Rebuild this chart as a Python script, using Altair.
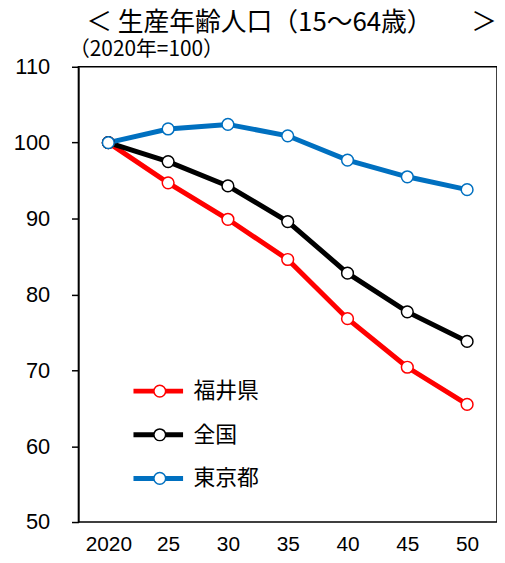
import altair as alt
import pandas as pd

years = ["2020", "25", "30", "35", "40", "45", "50"]
series_names = ["福井県", "全国", "東京都"]
fukui = [100, 94.7, 89.9, 84.6, 76.8, 70.4, 65.5]
zenkoku = [100, 97.5, 94.3, 89.6, 82.8, 77.7, 73.8]
tokyo = [100, 101.8, 102.4, 100.9, 97.7, 95.5, 93.8]
colors = ["#FF0000", "#000000", "#0070C0"]

rows = []
for name, vals in zip(series_names, [fukui, zenkoku, tokyo]):
    for y, v in zip(years, vals):
        rows.append({"year": y, "series": name, "marker": name + "・", "value": v})
df = pd.DataFrame(rows)
marker_names = [n + "・" for n in series_names]

FONT_NUM = "Liberation Sans"
FONT_JP = "Noto Sans CJK JP"

x_enc = alt.X("year:N", sort=years,
              scale=alt.Scale(type="point", padding=0.5),
              axis=alt.Axis(title=None, labelAngle=0, ticks=False, domain=False,
                            labelFont=FONT_NUM, labelFontSize=21, labelColor="black",
                            labelPadding=12, grid=False))
y_enc = alt.Y("value:Q", scale=alt.Scale(domain=[50, 110], nice=False, zero=False),
              axis=alt.Axis(values=[50, 60, 70, 80, 90, 100, 110], grid=False,
                            tickSize=7, tickColor="black", tickWidth=1.5,
                            domainColor="black", domainWidth=1.5,
                            labelFont=FONT_NUM, labelFontSize=22, labelColor="black",
                            labelPadding=22,
                            title="（2020年=100）", titleAngle=0, titleAlign="left",
                            titleBaseline="bottom", titleX=-10, titleY=-7,
                            titleFont=FONT_JP, titleFontSize=21, titleFontWeight="normal",
                            titleColor="black"))

LEG_X = 53
LEG_Y = 312

lines = alt.Chart(df).mark_line(strokeWidth=5).encode(
    x=x_enc, y=y_enc,
    color=alt.Color("series:N", sort=series_names,
                    scale=alt.Scale(domain=series_names, range=colors),
                    legend=alt.Legend(orient="none", legendX=LEG_X, legendY=LEG_Y,
                                      title=None, symbolType="stroke", symbolStrokeWidth=5,
                                      symbolSize=2500, clipHeight=30, rowPadding=14,
                                      padding=0, labelFont=FONT_JP, labelFontSize=22,
                                      labelColor="black", labelOffset=8)),
)

points = alt.Chart(df).mark_point(filled=True, fill="white", size=140, strokeWidth=1.5, opacity=1).encode(
    x=x_enc, y=y_enc,
    stroke=alt.Stroke("marker:N", sort=marker_names,
                      scale=alt.Scale(domain=marker_names, range=colors),
                      legend=alt.Legend(orient="none", legendX=LEG_X, legendY=LEG_Y,
                                        title=None, symbolType="circle", symbolStrokeWidth=1.5,
                                        symbolFillColor="white", symbolSize=140,
                                        clipHeight=30, rowPadding=14, padding=0,
                                        symbolOffset=18, labelExpr="''",
                                        labelFontSize=22)),
)

chart = alt.layer(lines, points).properties(
    width=422, height=459,
    padding={"left": 5, "top": 0, "right": 0, "bottom": 0},
    background="white",
    title=alt.TitleParams("＜ 生産年齢人口（15～64歳）　　＞", anchor="end", font=FONT_JP,
                          fontSize=26, fontWeight="normal", color="black", offset=3),
).configure_view(stroke="black", strokeWidth=1.5)

chart.save("out.html", embed_options={"renderer": "svg", "actions": False})
